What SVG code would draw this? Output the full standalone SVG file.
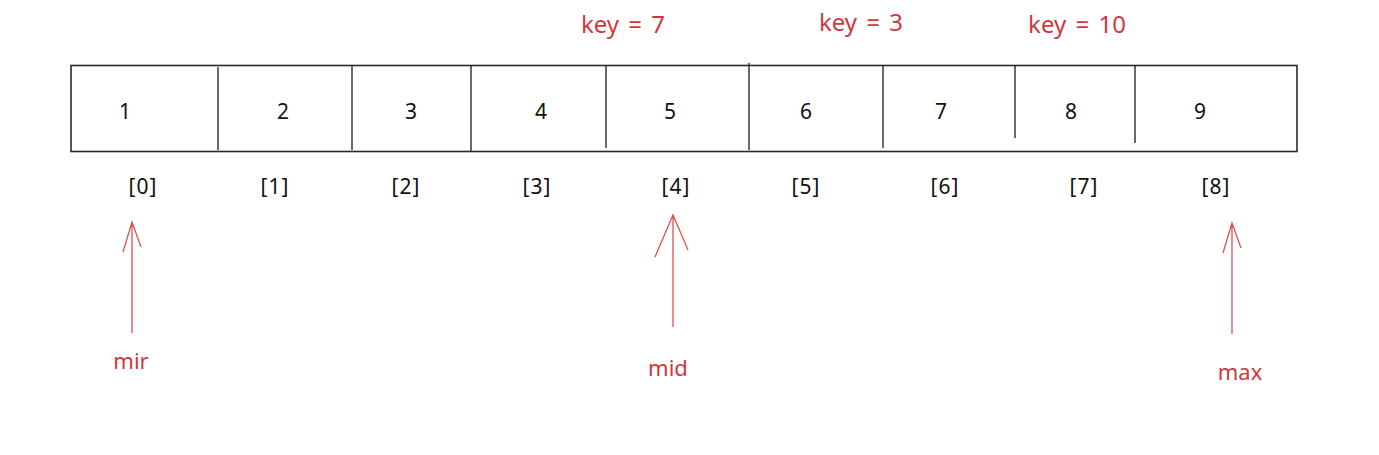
<svg xmlns="http://www.w3.org/2000/svg" width="1379" height="455" viewBox="0 0 1379 455">
<style>
.box{fill:none;stroke:#2a2a2a;stroke-width:1.6}
.div{stroke:#2a2a2a;stroke-width:1.4}
.num{font-family:"Noto Sans","Open Sans",sans-serif;font-size:21px;fill:#111;text-anchor:middle}
.idx{font-family:"Noto Sans","Open Sans",sans-serif;font-size:21px;fill:#111;text-anchor:middle;letter-spacing:1px}
.red{font-family:"Noto Sans","Open Sans",sans-serif;font-size:22px;fill:#d0383c;text-anchor:middle}
.key{font-family:"Noto Sans","Open Sans",sans-serif;font-size:24px;fill:#d0383c;text-anchor:middle;word-spacing:3px}
.arr{stroke:#d9534f;stroke-width:1.3;fill:none}
</style>
<rect width="1379" height="455" fill="#fff"/>
<g id="keys">
<text class="key" x="623" y="33">key = 7</text>
<text class="key" x="861" y="31">key = 3</text>
<text class="key" x="1077" y="33">key = 10</text>
</g>
<g id="array">
<rect class="box" x="71" y="65.5" width="1226" height="86"/>
<line class="div" x1="218" y1="67" x2="218" y2="150"/>
<line class="div" x1="352" y1="66" x2="352" y2="150"/>
<line class="div" x1="471" y1="66" x2="471" y2="151"/>
<line class="div" x1="606" y1="66" x2="606" y2="148"/>
<line class="div" x1="749" y1="63" x2="749" y2="150"/>
<line class="div" x1="883" y1="66" x2="883" y2="148"/>
<line class="div" x1="1015" y1="66" x2="1015" y2="138"/>
<line class="div" x1="1135" y1="66" x2="1135" y2="143"/>
<text class="num" x="125" y="119">1</text>
<text class="num" x="283" y="119">2</text>
<text class="num" x="411" y="119">3</text>
<text class="num" x="541" y="119">4</text>
<text class="num" x="670" y="119">5</text>
<text class="num" x="806" y="119">6</text>
<text class="num" x="941" y="119">7</text>
<text class="num" x="1071" y="119">8</text>
<text class="num" x="1200" y="119">9</text>
</g>
<g id="indices">
<text class="idx" x="143" y="194">[0]</text>
<text class="idx" x="275" y="194">[1]</text>
<text class="idx" x="406" y="194">[2]</text>
<text class="idx" x="537" y="194">[3]</text>
<text class="idx" x="676" y="194">[4]</text>
<text class="idx" x="806" y="194">[5]</text>
<text class="idx" x="945" y="194">[6]</text>
<text class="idx" x="1084" y="194">[7]</text>
<text class="idx" x="1216" y="194">[8]</text>
</g>
<g id="connectors">
<path class="arr" d="M132 333 V222 M123 252 L132 222 L141 247"/>
<path class="arr" d="M673 327 V215 M655 257 L673 215 L688 250"/>
<path class="arr" d="M1232 334 V223 M1223 253 L1232 223 L1241 248"/>
</g>
<g id="labels">
<text class="red" x="131" y="369">mir</text>
<text class="red" x="668" y="376">mid</text>
<text class="red" x="1240" y="380">max</text>
</g>
</svg>
